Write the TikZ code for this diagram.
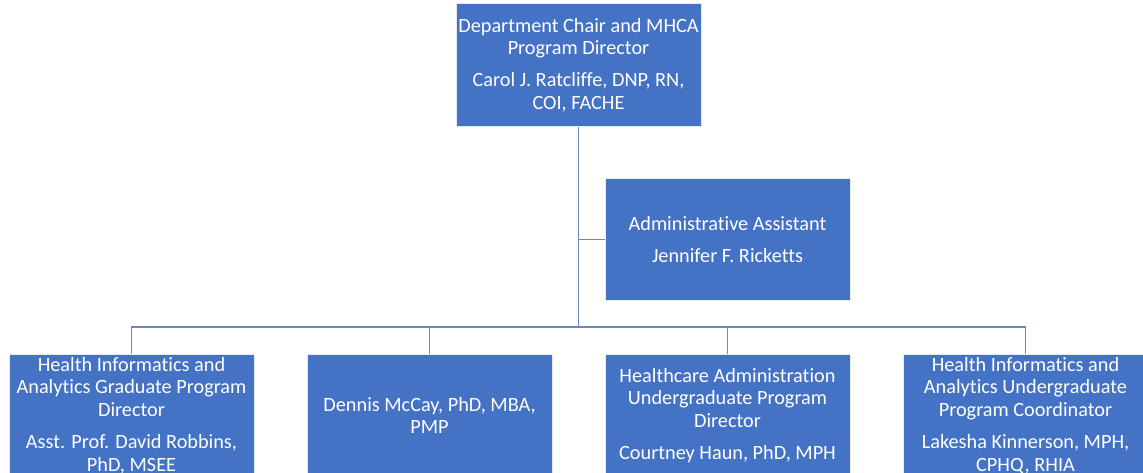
\documentclass[tikz,border=0pt]{standalone}
\usepackage{fontspec}
\setmainfont[Ligatures=NoCommon]{Carlito}
\definecolor{boxblue}{RGB}{68,114,196}
\definecolor{linkblue}{RGB}{110,136,190}
\begin{document}
\begin{tikzpicture}[x=0.75pt,y=-0.75pt,
  orgbox/.style={draw=white!85!boxblue, line width=0.6pt, fill=boxblue, text=white,
    minimum width=183.75pt, minimum height=92pt, align=center, inner sep=0pt,
    font=\fontsize{15.2}{17}\selectfont},
  link/.style={draw=linkblue, line width=0.8pt}]
\useasboundingbox (0,0) rectangle (1143,473);
\clip (0,0) rectangle (1143,473);
\node[orgbox] (top) at (578.5,65) {Department Chair and MHCA\\Program Director\\[7pt]Carol J. Ratcliffe, DNP, RN,\\COI, FACHE};
\node[orgbox] (admin) at (727.5,239.5) {Administrative Assistant\\[7pt]Jennifer F. Ricketts};
\node[orgbox] (b1) at (131.5,415.5) {Health Informatics and\\Analytics Graduate Program\\Director\\[7pt]Asst. Prof. David Robbins,\\PhD, MSEE};
\node[orgbox] (b2) at (429.5,415.5) {Dennis McCay, PhD, MBA,\\PMP};
\node[orgbox] (b3) at (727.5,415.5) {Healthcare Administration\\Undergraduate Program\\Director\\[7pt]Courtney Haun, PhD, MPH};
\node[orgbox] (b4) at (1025.5,415.5) {Health Informatics and\\Analytics Undergraduate\\Program Coordinator\\[7pt]Lakesha Kinnerson, MPH,\\CPHQ, RHIA};
\coordinate (bus) at (578.5,327);
\draw[link] (top.south) -- (bus);
\draw[link] (admin.west) -- (admin.west -| top.south);
\draw[link] (b1.north) -- (b1.north |- bus) -- (b4.north |- bus) -- (b4.north);
\draw[link] (b2.north) -- (b2.north |- bus);
\draw[link] (b3.north) -- (b3.north |- bus);
\end{tikzpicture}
\end{document}
